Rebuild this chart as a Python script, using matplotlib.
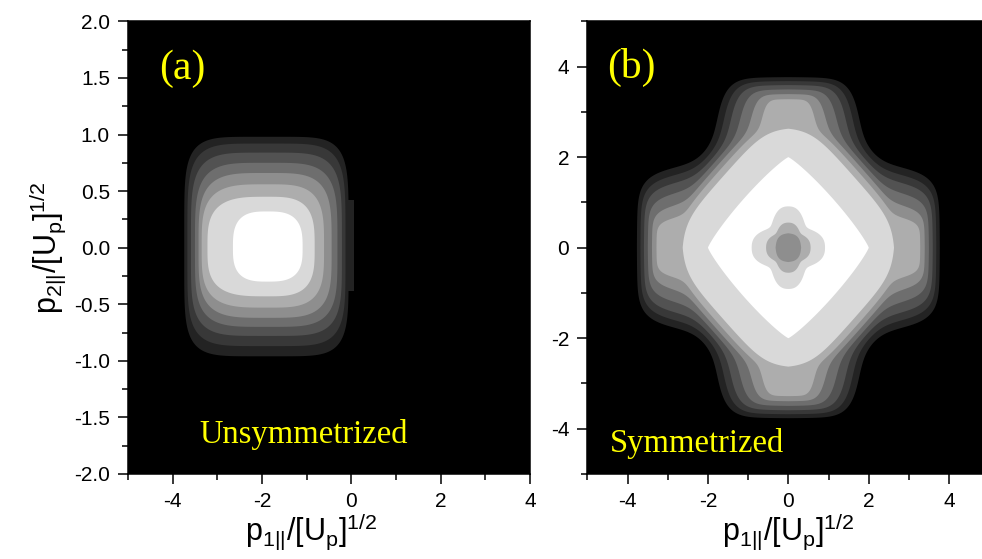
import numpy as np
import matplotlib
matplotlib.use('Agg')
import matplotlib.pyplot as plt
from matplotlib.ticker import MultipleLocator, FormatStrFormatter

plt.rcParams['font.family'] = ['Liberation Sans', 'DejaVu Sans']
plt.rcParams['axes.unicode_minus'] = False

# grey shades of the contour levels, outermost first (level 8 = white)
grays = ['#232323', '#383838', '#525252', '#6e6e6e', '#8e8e8e', '#adadad', '#d9d9d9', '#ffffff']

# panel (a): extent of every level (rounded boxes)
a_center = -1.88
a_left = [-3.74, -3.67, -3.59, -3.50, -3.42, -3.35, -3.22, -2.65]
a_right = [-0.06, -0.13, -0.21, -0.31, -0.44, -0.61, -0.82, -1.09]
a_top = [0.98, 0.92, 0.84, 0.75, 0.66, 0.56, 0.45, 0.32]
a_bottom = [-0.96, -0.87, -0.78, -0.70, -0.62, -0.53, -0.43, -0.30]
a_power = [5.5, 5.0, 4.6, 4.2, 3.9, 3.6, 3.3, 3.0]
# small step on the right edge of the outermost level
a_tab_y = [-0.38, 0.42]
a_tab_x = [-0.30, 0.07]

# panel (b): each level = two arms (half width, length) + a clipped diamond body
b_arm_w = [1.78, 1.62, 1.45, 1.22, 0.95, 0.68, 0, 0]
b_arm_len = [3.73, 3.64, 3.55, 3.45, 3.35, 3.24, 0, 0]
b_diamond = [4.12, 3.98, 3.85, 3.72, 3.58, 3.42, 3.20, 2.00]
b_diamond_pow = [1.0, 1.0, 1.0, 1.0, 1.0, 1.0, 1.0, 1.15]
b_square = [3.15, 3.10, 3.05, 3.00, 2.90, 2.80, 2.65, 9.0]
# dip in the middle of panel (b): levels 7, 6, 5
c_level = [7, 6, 5]
c_arm_w = [0.45, 0.32, 0.29]
c_arm_len = [0.91, 0.55, 0.29]
c_body = [0.68, 0.45, 0.29]


def box_field(X, Y, cx, left, right, bottom, top, p):
    sx = np.where(X < cx, cx - left, right - cx)
    sy = np.where(Y < 0, -bottom, top)
    return ((np.abs(X - cx) / sx) ** p + (np.abs(Y) / sy) ** p) ** (1.0 / p)


def superellipse(ax_, ay_, a, b, p):
    return ((ax_ / a) ** p + (ay_ / b) ** p) ** (1.0 / p)


def cross_field(X, Y, w, length, diamond, pd, square, pa=6.0, q=12.0):
    ax_, ay_ = np.abs(X) + 1e-9, np.abs(Y) + 1e-9
    fd = superellipse(ax_, ay_, diamond, diamond, pd)
    fs = superellipse(ax_, ay_, square, square, 8.0)
    body = (fd ** q + fs ** q) ** (1.0 / q)
    parts = [body]
    if w > 0:
        parts.append(superellipse(ax_, ay_, length, w, pa))
        parts.append(superellipse(ax_, ay_, w, length, pa))
    s = sum(f ** (-q) for f in parts)
    return s ** (-1.0 / q)


def center_field(X, Y, w, length, body, pa=2.5, q=12.0):
    ax_, ay_ = np.abs(X) + 1e-9, np.abs(Y) + 1e-9
    parts = [superellipse(ax_, ay_, body, body, 1.3),
             superellipse(ax_, ay_, length, w, pa),
             superellipse(ax_, ay_, w, length, pa)]
    s = sum(f ** (-q) for f in parts)
    return s ** (-1.0 / q)


fig = plt.figure(figsize=(9.82, 5.59), dpi=100)
ax1 = fig.add_axes([0.1303, 0.1521, 0.4094, 0.8097])
ax2 = fig.add_axes([0.5981, 0.1521, 0.4094, 0.8097])

# ---- panel (a)
xa = np.linspace(-5, 4, 901)
ya = np.linspace(-2, 2, 601)
XA, YA = np.meshgrid(xa, ya)
for i in range(len(grays)):
    f = box_field(XA, YA, a_center, a_left[i], a_right[i], a_bottom[i], a_top[i], a_power[i])
    ax1.contourf(XA, YA, f, levels=[0, 1], colors=[grays[i]], antialiased=True)
    if i == 0:
        ax1.fill_betweenx(a_tab_y, a_tab_x[0], a_tab_x[1], color=grays[0], lw=0)

ax1.set_xlim(-5, 4)
ax1.set_ylim(-2, 2)
ax1.xaxis.set_major_locator(MultipleLocator(2))
ax1.xaxis.set_minor_locator(MultipleLocator(1))
ax1.yaxis.set_major_locator(MultipleLocator(0.5))
ax1.yaxis.set_minor_locator(MultipleLocator(0.25))
ax1.yaxis.set_major_formatter(FormatStrFormatter('%.1f'))
ax1.set_ylabel(r'$\mathregular{p_{2||}/[U_p]^{1/2}}$', fontsize=22, labelpad=4)
ax1.text(-4.30, 1.49, '(a)', color='yellow', fontsize=30, family='Liberation Serif')
ax1.text(-3.41, -1.73, 'Unsymmetrized', color='yellow', fontsize=23.5, family='Liberation Serif')

# ---- panel (b)
xb = np.linspace(-5, 5, 801)
yb = np.linspace(-5, 5, 801)
XB, YB = np.meshgrid(xb, yb)
for i in range(len(grays)):
    f = cross_field(XB, YB, b_arm_w[i], b_arm_len[i], b_diamond[i], b_diamond_pow[i], b_square[i])
    ax2.contourf(XB, YB, f, levels=[0, 1], colors=[grays[i]], antialiased=True)
for lev, w, ln, bd in zip(c_level, c_arm_w, c_arm_len, c_body):
    f = center_field(XB, YB, w, ln, bd)
    ax2.contourf(XB, YB, f, levels=[0, 1], colors=[grays[lev - 1]], antialiased=True)

ax2.set_xlim(-5, 5)
ax2.set_ylim(-5, 5)
ax2.xaxis.set_major_locator(MultipleLocator(2))
ax2.xaxis.set_minor_locator(MultipleLocator(1))
ax2.yaxis.set_major_locator(MultipleLocator(2))
ax2.yaxis.set_minor_locator(MultipleLocator(1))
ax2.yaxis.set_major_formatter(FormatStrFormatter('%d'))
ax2.text(-4.51, 3.74, '(b)', color='yellow', fontsize=30, family='Liberation Serif')
ax2.text(-4.43, -4.51, 'Symmetrized', color='yellow', fontsize=23.5, family='Liberation Serif')

for ax in (ax1, ax2):
    ax.set_facecolor('black')
    ax.set_xlabel(r'$\mathregular{p_{1||}/[U_p]^{1/2}}$', fontsize=22)
    ax.tick_params(which='major', direction='out', length=7, width=1.1, labelsize=15, pad=6)
    ax.tick_params(which='minor', direction='out', length=4, width=1.1)
    ax.xaxis.set_major_formatter(FormatStrFormatter('%d'))
    for s in ax.spines.values():
        s.set_linewidth(1.1)

ax1.xaxis.set_label_coords(0.455, -0.083)
ax2.xaxis.set_label_coords(0.5, -0.083)

fig.savefig('out.png', dpi=100)
